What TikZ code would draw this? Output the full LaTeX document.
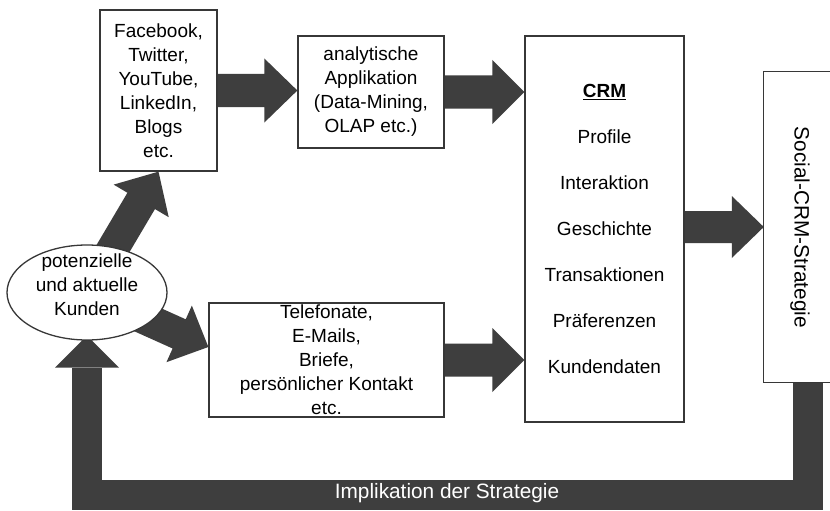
\documentclass[tikz,border=0pt]{standalone}
\usepackage{fontspec}
\setmainfont{Liberation Sans}
\usetikzlibrary{calc,shapes.geometric}
\pgfdeclarelayer{bg}
\pgfsetlayers{bg,main}
\definecolor{dk}{RGB}{62,62,62}
\definecolor{ln}{RGB}{55,55,55}
\newcommand{\dgfont}{\fontsize{19}{24}\selectfont}
% start, end, shaft half width, head half width, head length
\newcommand{\blockarrow}[5]{%
  \coordinate (ba-h) at ($(#2)!#5!(#1)$);
  \fill[dk] ($(#1)!#3!90:(#2)$) -- ($(ba-h)!#3!90:(#2)$) -- ($(ba-h)!#4!90:(#2)$)
    -- (#2) -- ($(ba-h)!#4!-90:(#2)$) -- ($(ba-h)!#3!-90:(#2)$) -- ($(#1)!#3!-90:(#2)$) -- cycle;
}
\begin{document}
\begin{tikzpicture}[x=1pt,y=-1pt,
  box/.style={draw=ln, line width=1.3pt, fill=white, align=center, inner sep=0pt, font=\dgfont},
  txt/.style={align=center, inner sep=0pt, font=\dgfont},
  bigtxt/.style={align=center, inner sep=0pt, font=\fontsize{20.8}{24}\selectfont}]
\begin{pgfonlayer}{bg}
\fill[white] (0,0) rectangle (830,511);
\end{pgfonlayer}
\useasboundingbox (0,0) rectangle (830,511);

\node[box, minimum width=117pt, minimum height=161pt] (fb) at (158.5,90.5)
  {Facebook,\\Twitter,\\YouTube,\\LinkedIn,\\Blogs\\etc.};
\node[box, minimum width=146pt, minimum height=112pt] (ana) at (371,92)
  {analytische\\Applikation\\(Data-Mining,\\OLAP etc.)};
\node[box, minimum width=159pt, minimum height=386pt] (crm) at (604.5,229)
  {\underline{\textbf{CRM}}\\[22pt]Profile\\[22pt]Interaktion\\[22pt]Geschichte\\[22pt]Transaktionen\\[22pt]Präferenzen\\[22pt]Kundendaten};
\node[box, minimum width=235pt, minimum height=114pt] (tel) at (326.5,360)
  {Telefonate,\\E-Mails,\\Briefe,\\persönlicher Kontakt\\etc.};
\node[box, ellipse, minimum width=160pt, minimum height=95pt] (kunden) at (87,292.5) {};
\node[txt] (kundentxt) at ($(kunden.center)+(0,-8)$) {potenzielle\\und aktuelle\\Kunden};

\node[fill=white, inner sep=0pt, minimum width=66pt, minimum height=310pt] (soc) at (797,227) {};
\draw[ln, line width=1.3pt] (soc.north east) -- (soc.north west) -- (soc.south west) -- (soc.south east);
\node[bigtxt, rotate=-90] (soctxt) at ($(soc.center)+(3,0.5)$) {Social-CRM-Strategie};

\begin{pgfonlayer}{bg}
  \blockarrow{fb.east}{ana.west |- fb.east}{16.5pt}{32pt}{33pt}
  \blockarrow{ana.east}{crm.west |- ana.east}{16.5pt}{32pt}{32pt}
  \blockarrow{crm.east |- soc.west}{soc.west}{16pt}{31pt}{32pt}
  \blockarrow{tel.east}{crm.west |- tel.east}{16.5pt}{32pt}{32pt}
  \coordinate (t5) at (fb.south);
  \blockarrow{kunden.center}{t5}{16pt}{32pt}{34pt}
  \coordinate (t6) at ($(tel.west)+(0,-13)$);
  \blockarrow{kunden.center}{t6}{16pt}{31pt}{32pt}
  % feedback
  \coordinate (fbR) at ($(soc.south west)+(44,0)$);
  \coordinate (fbC) at (87,494.5);
  \coordinate (fbBR) at (fbR |- fbC);
  \coordinate (fbH) at ($(kunden.south)+(0,27)$);
  \coordinate (fbT) at ($(kunden.south)+(0,-5)$);
  \draw[dk, line width=30pt, line join=miter] (fbR) -- (fbBR) -- (fbC) -- (fbH);
  \fill[dk] ($(fbH)+(-32,0)$) -- ($(fbH)+(32,0)$) -- (fbT) -- cycle;
\end{pgfonlayer}
\node[bigtxt, text=white] (impl) at (447,493) {Implikation der Strategie};
\end{tikzpicture}
\end{document}
